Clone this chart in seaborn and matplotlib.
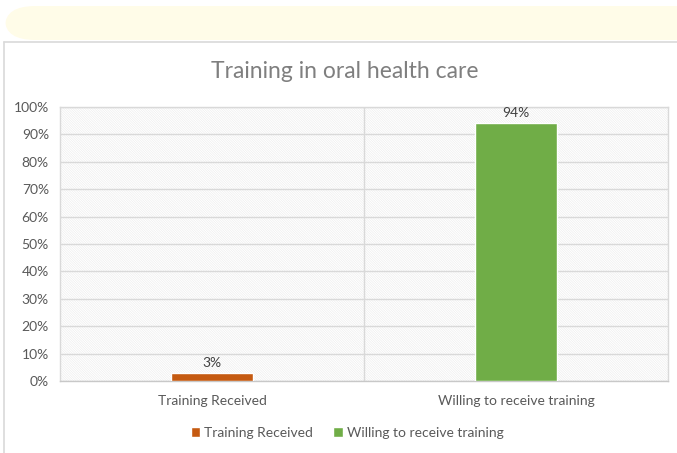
import matplotlib
matplotlib.use("Agg")
import matplotlib.pyplot as plt
from matplotlib.patches import FancyBboxPatch, Rectangle
from matplotlib.lines import Line2D
import seaborn as sns
import pandas as pd

categories = ["Training Received", "Willing to receive training"]
values = [3, 94]
colors = ["#C55A11", "#70AD47"]
title = "Training in oral health care"
yticks = list(range(0, 101, 10))

sns.set_theme(style="white")
plt.rcParams['font.family'] = ['Lato', 'DejaVu Sans']
plt.rcParams['hatch.linewidth'] = 0.4
plt.rcParams['hatch.color'] = '#ebebeb'

df = pd.DataFrame({"cat": categories, "val": values})

fig = plt.figure(figsize=(6.77, 4.53), dpi=100)
W, H = 677, 453

# top pale strip and chart border
fig.patches.append(FancyBboxPatch((5 / W, 1 - 40 / H), 700 / W, 34 / H,
                                  boxstyle="round,pad=0,rounding_size=0.045",
                                  transform=fig.transFigure, facecolor="#FFFCE8",
                                  edgecolor="none", zorder=0))
fig.lines.append(Line2D([4 / W, 1], [1 - 42 / H, 1 - 42 / H], transform=fig.transFigure,
                        color="#d9d9d9", lw=1.2))
fig.lines.append(Line2D([4 / W, 4 / W], [0, 1 - 42 / H], transform=fig.transFigure,
                        color="#d9d9d9", lw=1.2))

ax = fig.add_axes([60 / W, 1 - 381 / H, (668 - 60) / W, (381 - 107) / H])
ax.patch.set_facecolor("white")
ax.add_patch(Rectangle((0, 0), 1, 1, transform=ax.transAxes, facecolor="none",
                       hatch="\\" * 14, edgecolor="#ebebeb", lw=0, zorder=0))

sns.barplot(data=df, x="cat", y="val", hue="cat", palette=colors, width=0.27,
            dodge=False, legend=False, ax=ax, saturation=1, zorder=3)

ax.set_ylim(0, 100)
ax.set_xlim(-0.5, 1.5)
ax.set_yticks(yticks)
ax.set_yticklabels([f"{v}%" for v in yticks])
ax.yaxis.grid(True, color="#d9d9d9", lw=1)
ax.axvline(0.5, color="#d9d9d9", lw=1, zorder=1)
ax.set_axisbelow(True)
for s in ["top", "right", "left"]:
    ax.spines[s].set_color("#d9d9d9")
    ax.spines[s].set_linewidth(1)
ax.spines["bottom"].set_color("#c8c8c8")
ax.spines["bottom"].set_linewidth(1)
ax.tick_params(axis="both", length=0, labelsize=10, colors="#595959", pad=8)
ax.tick_params(axis="x", pad=10)
ax.set_xlabel("")
ax.set_ylabel("")

for i, v in enumerate(values):
    ax.text(i, v + 1.5, f"{v}%", ha="center", va="bottom", fontsize=10, color="#404040")

fig.text(345 / W, 1 - 72 / H, title, ha="center", va="center", fontsize=16.5, color="#7f7f7f")

handles = [Rectangle((0, 0), 1, 1, facecolor=c) for c in colors]
fig.legend(handles, categories, loc="center", bbox_to_anchor=(347 / W, 1 - 433 / H),
           ncol=2, frameon=False, fontsize=10, handlelength=0.7, handleheight=0.7,
           handletextpad=0.3, columnspacing=1.4, labelcolor="#595959")

fig.savefig("out.png", dpi=100)
